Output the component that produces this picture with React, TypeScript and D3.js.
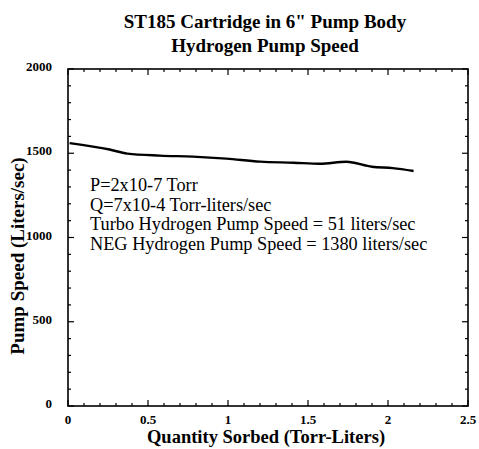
import React from 'react';
import * as d3 from 'd3';

const sorbed = [0.01, 0.26, 0.37, 0.575, 0.78, 0.99, 1.2, 1.41, 1.575, 1.74, 1.9, 2.03, 2.16];
const speed = [1560, 1522, 1498, 1486, 1480, 1468, 1450, 1444, 1438, 1450, 1420, 1412, 1395];
const xTicks = [0, 0.5, 1, 1.5, 2, 2.5];
const xTickLabels = ['0', '0.5', '1', '1.5', '2', '2.5'];
const yTicks = [0, 500, 1000, 1500, 2000];
const notes = [
  'P=2x10-7 Torr',
  'Q=7x10-4 Torr-liters/sec',
  'Turbo Hydrogen Pump Speed = 51 liters/sec',
  'NEG Hydrogen Pump Speed = 1380 liters/sec',
];

const App: React.FC = () => {
  const svgRef = React.useRef<SVGSVGElement>(null);

  React.useEffect(() => {
    if (!svgRef.current) return;
    const svg = d3.select(svgRef.current);
    svg.selectAll('*').remove();

    const left = 68, right = 468, top = 69, bottom = 406;
    const font = '"Liberation Serif", "Times New Roman", serif';

    const x = d3.scaleLinear().domain([0, 2.5]).range([left, right]);
    const y = d3.scaleLinear().domain([0, 2000]).range([bottom, top]);

    // frame
    svg.append('rect')
      .attr('x', left).attr('y', top)
      .attr('width', right - left).attr('height', bottom - top)
      .attr('fill', 'none').attr('stroke', '#000').attr('stroke-width', 1.6);

    // inward ticks on all four sides
    d3.range(0, 2.5001, 0.1).forEach(v => {
      const major = Math.abs(v * 2 - Math.round(v * 2)) < 1e-6;
      const len = major ? 6 : 3;
      svg.append('line').attr('x1', x(v)).attr('x2', x(v))
        .attr('y1', bottom).attr('y2', bottom - len).attr('stroke', '#000').attr('stroke-width', 1.2);
      svg.append('line').attr('x1', x(v)).attr('x2', x(v))
        .attr('y1', top).attr('y2', top + len).attr('stroke', '#000').attr('stroke-width', 1.2);
    });
    d3.range(0, 2001, 100).forEach(v => {
      const len = v % 500 === 0 ? 6 : 3;
      svg.append('line').attr('x1', left).attr('x2', left + len)
        .attr('y1', y(v)).attr('y2', y(v)).attr('stroke', '#000').attr('stroke-width', 1.2);
      svg.append('line').attr('x1', right).attr('x2', right - len)
        .attr('y1', y(v)).attr('y2', y(v)).attr('stroke', '#000').attr('stroke-width', 1.2);
    });

    // tick labels
    xTicks.forEach((v, i) => {
      svg.append('text')
        .attr('x', x(v)).attr('y', bottom + 18)
        .attr('text-anchor', 'middle')
        .style('font-family', font).style('font-size', '13px').style('font-weight', 'bold')
        .text(xTickLabels[i]);
    });
    yTicks.forEach(v => {
      svg.append('text')
        .attr('x', left - 16).attr('y', y(v) + 2)
        .attr('text-anchor', 'end')
        .style('font-family', font).style('font-size', '13px').style('font-weight', 'bold')
        .text(String(v));
    });

    // curve
    const line = d3.line<number>()
      .x((_, i) => x(sorbed[i]))
      .y(d => y(d))
      .curve(d3.curveMonotoneX);
    svg.append('path')
      .datum(speed)
      .attr('d', line)
      .attr('fill', 'none')
      .attr('stroke', '#000')
      .attr('stroke-width', 2.4);

    // notes
    notes.forEach((t, i) => {
      svg.append('text')
        .attr('x', 90).attr('y', 191 + i * 19.5)
        .style('font-family', font).style('font-size', '18.3px')
        .text(t);
    });

    // titles
    svg.append('text')
      .attr('x', 265).attr('y', 28).attr('text-anchor', 'middle')
      .style('font-family', font).style('font-size', '19px').style('font-weight', 'bold')
      .text('ST185 Cartridge in 6" Pump Body');
    svg.append('text')
      .attr('x', 265).attr('y', 52).attr('text-anchor', 'middle')
      .style('font-family', font).style('font-size', '19px').style('font-weight', 'bold')
      .text('Hydrogen Pump Speed');

    svg.append('text')
      .attr('x', 266).attr('y', 443).attr('text-anchor', 'middle')
      .style('font-family', font).style('font-size', '18.5px').style('font-weight', 'bold')
      .text('Quantity Sorbed (Torr-Liters)');
    svg.append('text')
      .attr('transform', `translate(24,256) rotate(-90)`)
      .attr('text-anchor', 'middle')
      .style('font-family', font).style('font-size', '19px').style('font-weight', 'bold')
      .text('Pump Speed  (Liters/sec)');
  }, []);

  return (
    <svg ref={svgRef} width={479} height={449}
      style={{ position: 'absolute', left: 0, top: 0, background: '#fff' }} />
  );
};

export default App;
